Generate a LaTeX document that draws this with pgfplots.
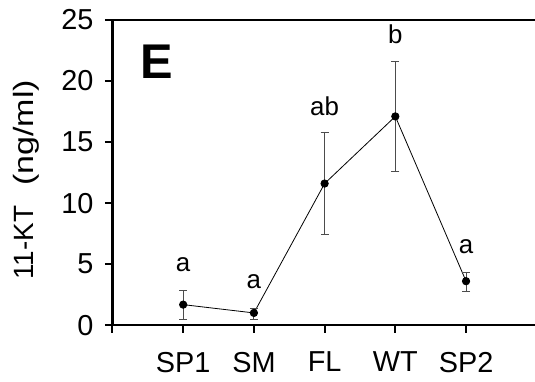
\documentclass[border=0pt]{standalone}
\usepackage{pgfplots}
\pgfplotsset{compat=1.18}
\usepackage{graphicx}
\usepackage{fontspec}
\setmainfont{Liberation Sans}
\begin{document}
\begin{tikzpicture}
\begin{axis}[
  scale only axis,
  width=423bp, height=305.5bp,
  xmin=0, xmax=5.975,
  ymin=0, ymax=25,
  axis lines*=left,
  axis line style={line width=2.2bp},
  every axis x line/.append style={-},
  every axis y line/.append style={-},
  xtick={0,1,2,3,4,5},
  xticklabels={,SP1,SM,FL,WT,SP2},
  ytick={0,5,10,15,20,25},
  tick align=outside,
  major tick length=7.5bp,
  tick style={line width=2bp, black},
  ticklabel style={font=\fontsize{29}{30}\selectfont},
  /pgf/number format/assume math mode=true,
  xticklabel style={yshift=-16bp},
  yticklabel style={xshift=-8bp},
  clip=false,
]
\addplot[black, line width=0.8bp, mark=*, mark size=3.7bp,
  error bars/.cd, y dir=both, y explicit,
  error bar style={line width=0.9bp, color=black!70},
  error mark options={rotate=90, mark size=4bp, line width=0.9bp, color=black!70}]
  table[x=x, y=y, y error plus=ep, y error minus=em] {
x y ep em
1 1.68 1.14 1.18
2 1.00 0.35 0.55
3 11.6 4.2 4.2
4 17.1 4.5 4.5
5 3.6 0.7 0.8
};
\draw[line width=2.2bp] (rel axis cs:0,1) -- (rel axis cs:1,1);
\node[inner sep=0, font=\fontsize{26}{27}\selectfont] at (axis cs:1,4.95) {a};
\node[inner sep=0, font=\fontsize{26}{27}\selectfont] at (axis cs:2,3.6) {a};
\node[inner sep=0, font=\fontsize{26}{27}\selectfont] at (axis cs:3,17.95) {ab};
\node[inner sep=0, font=\fontsize{26}{27}\selectfont] at (axis cs:4,23.8) {b};
\node[inner sep=0, font=\fontsize{26}{27}\selectfont] at (axis cs:5,6.45) {a};
\node[inner sep=0, font=\fontsize{49}{50}\selectfont\bfseries] at (axis cs:0.62,21.6) {E};
\node[inner sep=0, rotate=90, anchor=north, font=\fontsize{28}{29}\selectfont] at (rel axis cs:-0.234,0.476) {11-KT\hspace{20bp}\scalebox{1.22}[1]{(ng/ml)}};
\end{axis}
\pgfresetboundingbox
\path ([xshift=-112.6bp,yshift=-56.5bp]current axis.south west) rectangle ([yshift=20bp]current axis.north east);
\end{tikzpicture}
\end{document}
